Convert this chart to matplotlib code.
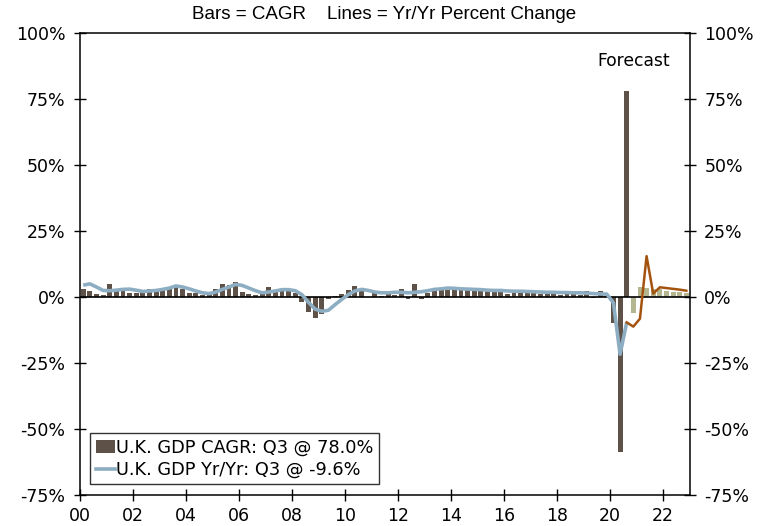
import numpy as np
import matplotlib
matplotlib.use("Agg")
import matplotlib.pyplot as plt
from matplotlib.patches import Patch
from matplotlib.lines import Line2D

# quarterly, 2000Q1 .. 2020Q3 actual, 2020Q4 .. 2022Q4 forecast
cagr_actual = [
    3.1, 2.4, 1.3, 0.9,  4.8, 2.5, 2.5, 1.6,  1.6, 2.5, 2.9, 3.1,
    2.9, 3.8, 4.7, 3.1,  1.6, 1.6, 0.9, 1.6,  3.1, 4.8, 4.4, 5.7,
    1.9, 1.3, 0.6, 1.6,  3.8, 2.1, 2.5, 2.5,  1.6, -1.9, -5.7, -7.9,
    -6.3, -0.6, 0.3, 1.3,  2.5, 4.2, 2.9, 0.2,  1.6, 0.5, 1.8, 0.8,
    2.9, -0.6, 4.8, -0.8,  1.6, 2.9, 3.6, 2.5,  2.8, 3.1, 2.8, 2.6,
    2.5, 2.6, 2.2, 2.4,  1.2, 2.0, 2.0, 2.4,  2.0, 1.3, 1.6, 1.6,
    0.6, 1.6, 2.4, 0.8,  2.4, -0.4, 2.2, 0.5,  -9.7, -58.6, 78.0,
]
cagr_forecast = [-5.9, 3.9, 3.5, 3.0, 2.9, 2.3, 1.9, 1.9, 1.6]

yoy_actual = [
    4.5, 5.0, 3.8, 2.5,  2.4, 2.6, 2.9, 3.0,  2.6, 2.1, 2.3, 2.5,
    2.9, 3.4, 4.2, 3.8,  3.1, 2.3, 1.6, 1.3,  1.9, 2.9, 3.8, 4.8,
    4.4, 3.4, 2.4, 1.6,  1.9, 2.3, 2.8, 2.8,  2.4, 0.9, -2.0, -4.6,
    -5.4, -5.0, -2.9, -0.9,  0.9, 2.3, 2.9, 2.5,  1.9, 1.6, 1.6, 1.8,
    1.8, 1.6, 1.8, 2.0,  2.4, 2.9, 3.1, 3.4,  3.3, 3.1, 3.0, 2.9,
    2.8, 2.6, 2.5, 2.5,  2.3, 2.2, 2.2, 2.1,  2.0, 1.9, 1.8, 1.8,
    1.7, 1.7, 1.6, 1.6,  1.5, 1.3, 1.2, 1.1,  -2.2, -21.7, -9.6,
]
yoy_forecast = [-9.6, -11.2, -8.2, 15.5, 1.3, 3.7, 3.4, 3.1, 2.8, 2.4]

year_ticks = list(range(2000, 2023, 2))
year_labels = [f"{y % 100:02d}" for y in year_ticks]
pct_ticks = [100, 75, 50, 25, 0, -25, -50, -75]

brown = "#5e5148"
olive = "#b4b690"
blue = "#8dadc2"
orange = "#a4530f"

n_act = len(cagr_actual)
x_act = 2000 + np.arange(n_act) / 4 + 0.125
x_fc = 2000 + np.arange(n_act, n_act + len(cagr_forecast)) / 4 + 0.125
x_yoy_fc = 2000 + np.arange(n_act - 1, n_act - 1 + len(yoy_forecast)) / 4 + 0.125

fig = plt.figure(figsize=(7.68, 5.26), dpi=100)
ax = fig.add_axes([0.104, 0.059, 0.794, 0.878])

ax.bar(x_act, cagr_actual, width=0.185, color=brown, zorder=2)
ax.bar(x_fc, cagr_forecast, width=0.185, color=olive, zorder=2)
ax.axhline(0, color="black", lw=1.2, zorder=3)
ax.plot(x_act, yoy_actual, color=blue, lw=2.6, zorder=4, solid_capstyle="butt")
ax.plot(x_yoy_fc, yoy_forecast, color=orange, lw=1.8, zorder=4)

ax.set_xlim(2000, 2023)
ax.set_ylim(-75, 100)
ax.set_xticks(year_ticks)
ax.set_xticklabels(year_labels)
ax.set_yticks(pct_ticks)
ax.set_yticklabels([f"{v}%" for v in pct_ticks])
ax.tick_params(axis="both", direction="inout", length=9, width=1,
               labelsize=12.5, colors="black")
ax.tick_params(axis="y", right=True, labelright=True, pad=6)
ax.tick_params(axis="x", pad=4)
for s in ax.spines.values():
    s.set_linewidth(1.1)

ax.text(2020.9, 89.5, "Forecast", ha="center", va="center", fontsize=12.3)

fig.text(0.5, 0.972, "Bars = CAGR    Lines = Yr/Yr Percent Change",
         ha="center", va="center", fontsize=13.5, family="Liberation Sans")

handles = [Patch(facecolor=brown, edgecolor="none"),
           Line2D([0], [0], color=blue, lw=2.6)]
labels = ["U.K. GDP CAGR: Q3 @ 78.0%", "U.K. GDP Yr/Yr: Q3 @ -9.6%"]
leg = ax.legend(handles, labels, loc="lower left", bbox_to_anchor=(0.017, 0.023),
                fontsize=12.8, frameon=True, fancybox=False, handlelength=1.1,
                handleheight=0.8, handletextpad=0.05, borderpad=0.3,
                labelspacing=0.25, borderaxespad=0)
leg.get_frame().set_edgecolor("black")
leg.get_frame().set_linewidth(1.0)

fig.savefig("out.png", dpi=100)
